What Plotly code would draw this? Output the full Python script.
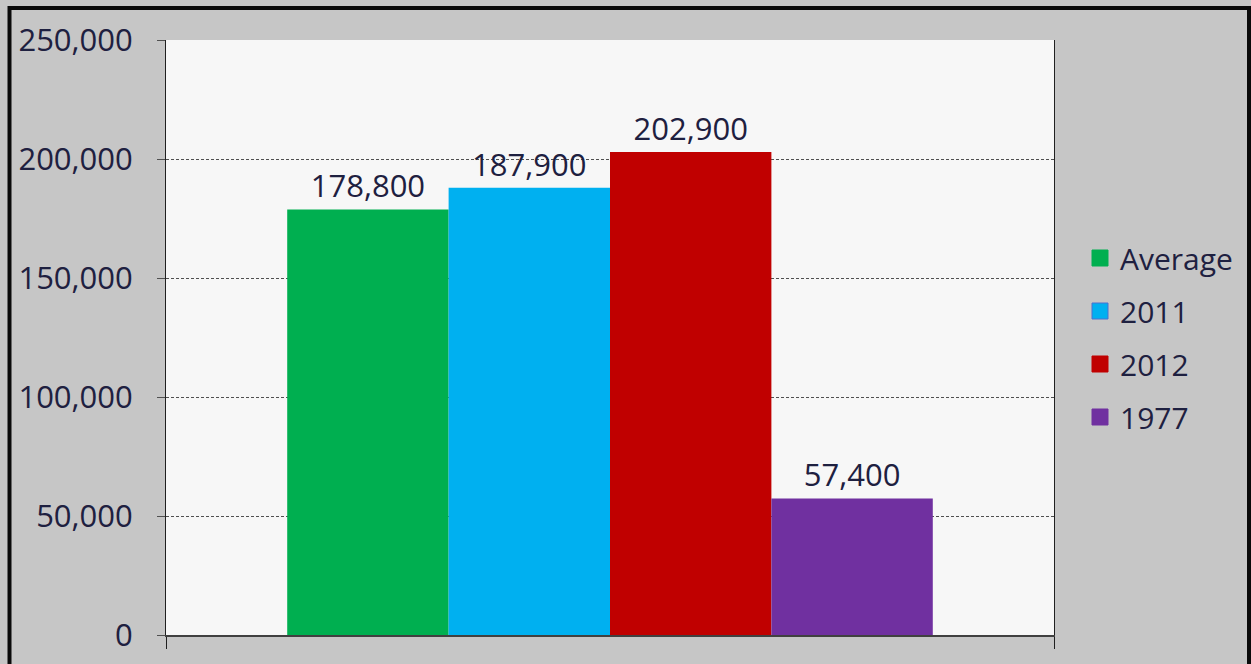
import plotly.graph_objects as go

series = ["Average", "2011", "2012", "1977"]
values = [178800, 187900, 202900, 57400]
colors = ["#00AF50", "#00B0F0", "#C00000", "#7030A0"]
category = [""]

W, H = 1251, 664
L, R, T, B = 166, 197, 40, 29
# intended plot area in pixels
PX0, PX1, PY0, PY1 = 166, 1054, 40, 635

def px_x(p):
    return (p - PX0) / (PX1 - PX0)

def px_y(p):
    return (PY1 - p) / (PY1 - PY0)

txt = "#1e2040"
fig = go.Figure()
for name, v, c in zip(series, values, colors):
    fig.add_trace(go.Bar(
        x=category, y=[v], name=name, marker=dict(color=c, line=dict(width=0)),
        text=[f"{v:,}"], textposition="outside", cliponaxis=False,
        textfont=dict(size=31, color=txt), showlegend=False,
    ))
# legend entries (square markers)
for name, c in zip(series, colors):
    fig.add_trace(go.Scatter(
        x=[None], y=[None], mode="markers", name=name, legendgroup=name,
        marker=dict(symbol="square", size=20, color=c,
                    line=dict(width=1, color="#4a70d0" if name == "2011" else c)),
    ))

fig.update_layout(
    width=W, height=H,
    margin=dict(l=L, r=R, t=T, b=B, pad=0, autoexpand=False),
    paper_bgcolor="#c6c6c6", plot_bgcolor="#f7f7f7",
    barmode="group", bargap=0.273, bargroupgap=0,
    font=dict(family="Open Sans", size=31, color=txt),
    showlegend=True,
    legend=dict(x=px_x(1080), y=px_y(232), xanchor="left", yanchor="top",
                bgcolor="rgba(0,0,0,0)", font=dict(size=30, color=txt),
                tracegroupgap=11, itemwidth=30, itemsizing="trace"),
    yaxis=dict(range=[0, 250000], tickvals=[0, 50000, 100000, 150000, 200000, 250000],
               tickformat=",d", showgrid=True, gridcolor="#505050", griddash="3px,2px", gridwidth=1,
               ticks="outside", ticklen=8, tickcolor="#505050", ticklabelstandoff=18,
               showline=True, linecolor="#202020", linewidth=1, mirror=True,
               zeroline=False, tickfont=dict(size=31, color=txt)),
    xaxis=dict(range=[-0.5, 0.5], showticklabels=False, ticks="outside", tickson="boundaries",
               ticklen=12, tickcolor="#202020", showline=True, linecolor="#404040", linewidth=2,
               showgrid=False, zeroline=False),
    shapes=[dict(type="rect", xref="paper", yref="paper",
                 x0=px_x(9.5), x1=px_x(1249), y0=px_y(720), y1=px_y(8),
                 line=dict(color="#0a0a0a", width=4), fillcolor="rgba(0,0,0,0)", layer="above")],
)

fig.write_html("out.html", config={"displayModeBar": False})
with open("out.html", "r", encoding="utf-8") as f:
    html = f.read()
html = html.replace("<head>", "<head><style>html,body{margin:0;padding:0;overflow:hidden}</style>", 1)
with open("out.html", "w", encoding="utf-8") as f:
    f.write(html)
